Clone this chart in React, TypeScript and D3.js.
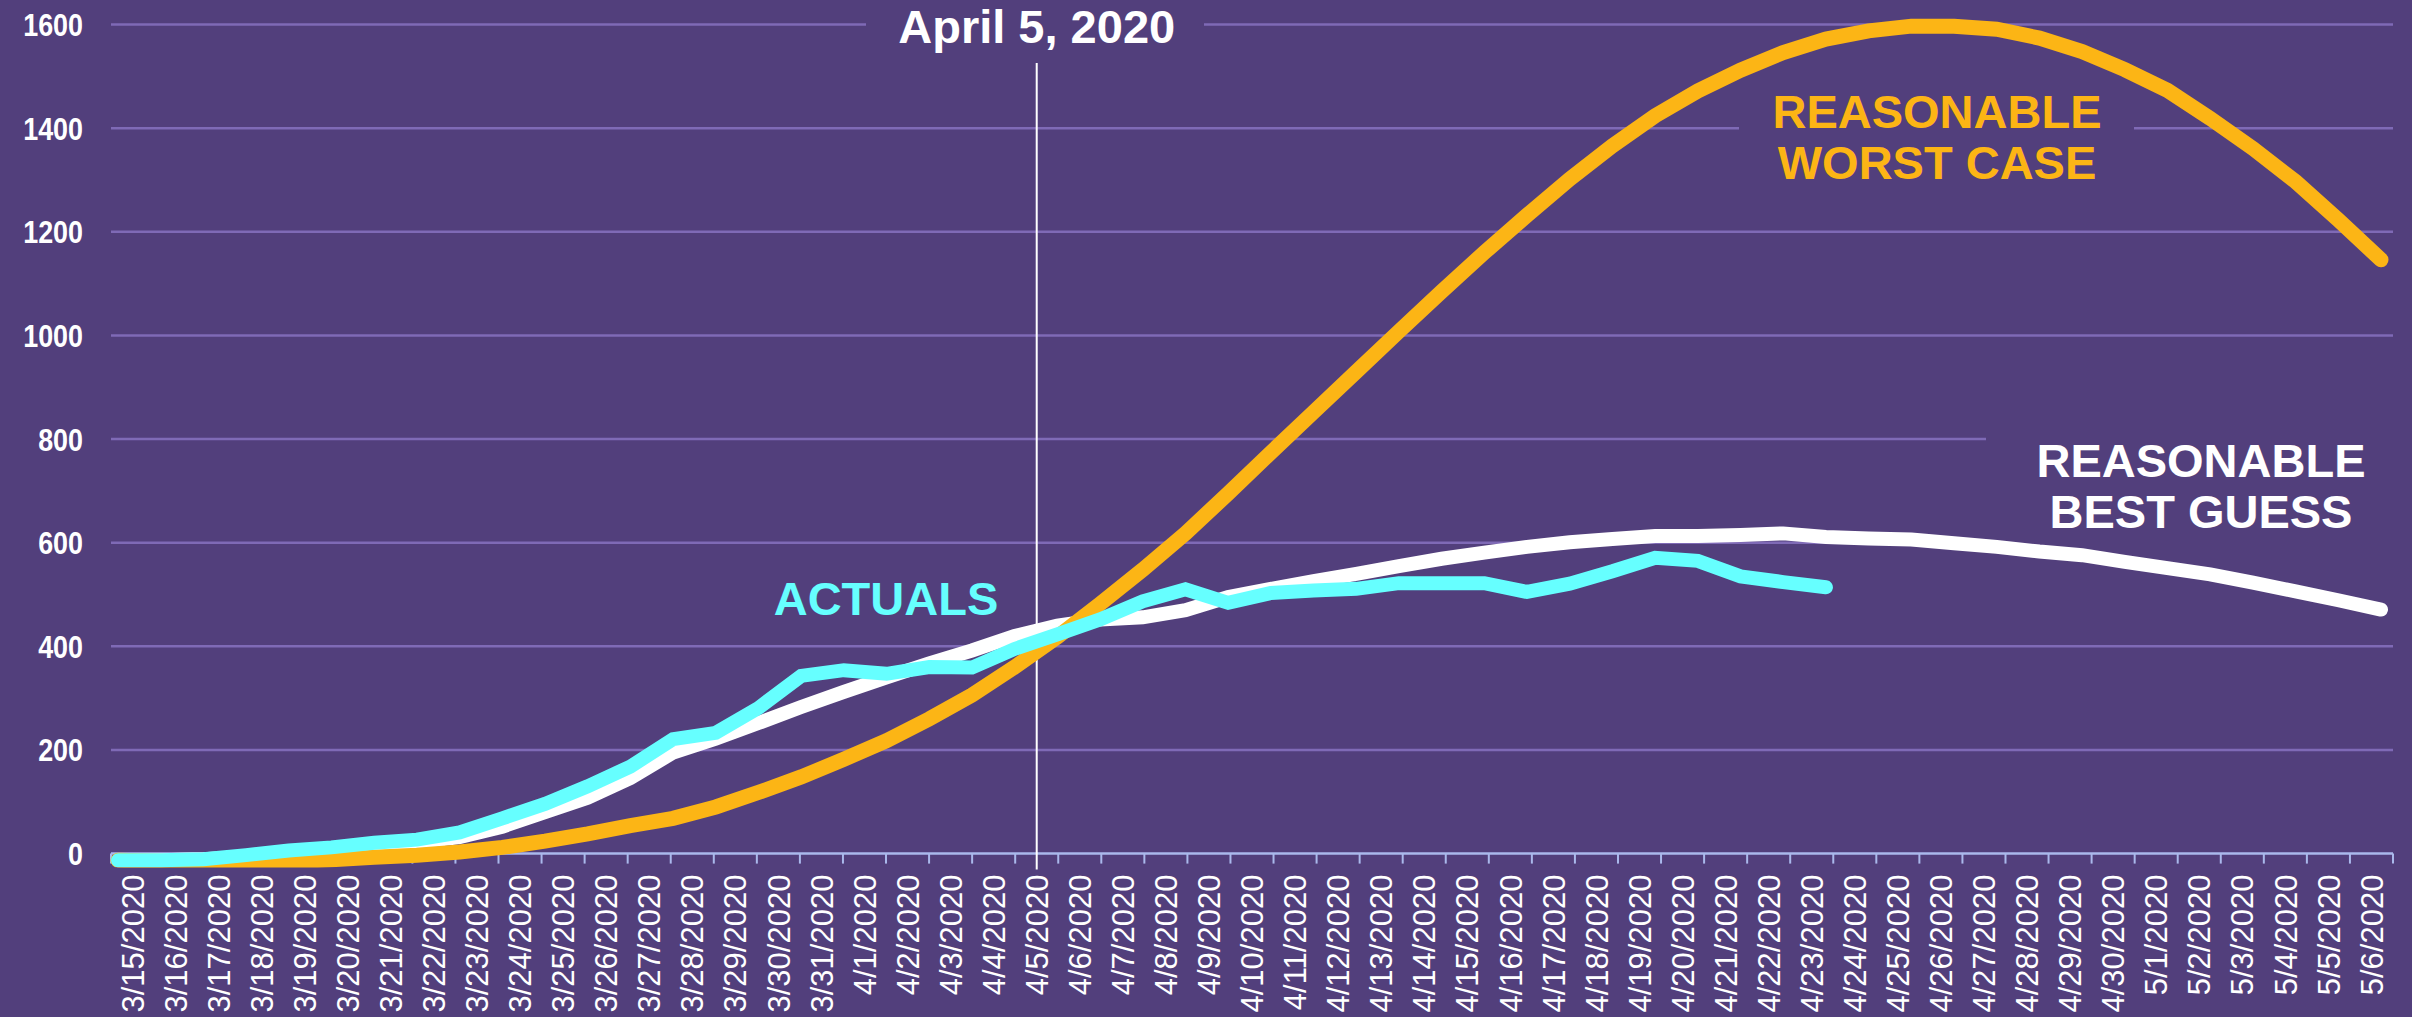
import React from "react";
import * as d3 from "d3";

// Axis categories (one per day)
const categories = [
  "3/15/2020", "3/16/2020", "3/17/2020", "3/18/2020", "3/19/2020", "3/20/2020",
  "3/21/2020", "3/22/2020", "3/23/2020", "3/24/2020", "3/25/2020", "3/26/2020",
  "3/27/2020", "3/28/2020", "3/29/2020", "3/30/2020", "3/31/2020", "4/1/2020",
  "4/2/2020", "4/3/2020", "4/4/2020", "4/5/2020", "4/6/2020", "4/7/2020",
  "4/8/2020", "4/9/2020", "4/10/2020", "4/11/2020", "4/12/2020", "4/13/2020",
  "4/14/2020", "4/15/2020", "4/16/2020", "4/17/2020", "4/18/2020", "4/19/2020",
  "4/20/2020", "4/21/2020", "4/22/2020", "4/23/2020", "4/24/2020", "4/25/2020",
  "4/26/2020", "4/27/2020", "4/28/2020", "4/29/2020", "4/30/2020", "5/1/2020",
  "5/2/2020", "5/3/2020", "5/4/2020", "5/5/2020", "5/6/2020",
];

// Series (one value per plotted point)
const worstCase = [
  -13, -15, -17, -17, -16, -12, -7, -3, 3, 12, 24, 38, 54, 68, 90, 118, 148, 182,
  218, 260, 306, 360, 418, 482, 548, 618, 695, 774, 852, 930, 1008, 1085, 1160,
  1232, 1302, 1366, 1424, 1472, 1512, 1546, 1572, 1588, 1597, 1597, 1591, 1574,
  1548, 1513, 1473, 1419, 1361, 1297, 1223, 1146,
];
const bestGuess = [
  -13, -13, -11, -6, 2, 8, 16, 22, 32, 52, 80, 108, 146, 195, 222, 252, 283, 312,
  340, 367, 392, 420, 440, 452, 456, 470, 495, 511, 526, 540, 555, 569, 581, 592,
  601, 607, 613, 613, 615, 618, 611, 608, 606, 599, 592, 583, 576, 563, 551, 539,
  523, 506, 489, 471,
];
const actuals = [
  -13, -13, -11, -3, 6, 12, 21, 27, 41, 68, 96, 130, 168, 221, 233, 281, 343, 354,
  347, 360, 359, 395, 423, 452, 487, 510, 484, 503, 508, 511, 522, 522, 522, 505,
  521, 545, 571, 565, 535, 524, 514,
];
const yTicks = [0, 200, 400, 600, 800, 1000, 1200, 1400, 1600];
const markerDate = "4/5/2020";

const W = 2412;
const H = 1017;
const BG = "#523f7c";
const GRID = "#7f6ab6";
const AXIS = "#aab9ec";
const ORANGE = "#fcb515";
const CYAN = "#66ffff";
const FONT = "'Liberation Sans', Arial, sans-serif";

export default function App() {
  const x = d3.scaleBand<string>().domain(categories).range([111, 2393]);
  const xLine = d3.scalePoint<number>().domain(d3.range(worstCase.length)).range([118, 2381]);
  const y = d3.scaleLinear().domain([0, 1600]).range([853.6, 24.6]);

  const line = d3
    .line<number>()
    .x((_, i) => xLine(i)!)
    .y((d) => y(d));

  const [left, right] = x.range();
  const ticks = categories.map((_, i) => left + i * x.step()).concat([right]);
  const markerX = x(markerDate)! + x.bandwidth() / 2;

  return (
    <div style={{ position: "absolute", left: 0, top: 0 }}>
      <svg width={W} height={H} style={{ display: "block", fontFamily: FONT }}>
        <defs>
          <clipPath id="plot">
            <rect x={0} y={0} width={W} height={y(0) + 14} />
          </clipPath>
        </defs>
        <rect width={W} height={H} fill={BG} />

        {/* gridlines */}
        {yTicks.filter((t) => t > 0).map((t) => (
          <line key={t} x1={left} x2={right} y1={y(t)} y2={y(t)} stroke={GRID} strokeWidth={2.5} />
        ))}

        {/* y labels, condensed */}
        {yTicks.map((t) => (
          <text
            key={t}
            transform={`translate(83,${y(t)}) scale(0.84,1)`}
            dy="0.36em"
            textAnchor="end"
            fill="#fff"
            fontWeight="bold"
            fontSize={32}
          >
            {t}
          </text>
        ))}

        {/* x axis */}
        <line x1={left} x2={right} y1={y(0)} y2={y(0)} stroke={AXIS} strokeWidth={2.5} />
        {ticks.map((tx, i) => (
          <line key={i} x1={tx} x2={tx} y1={y(0)} y2={y(0) + 10} stroke={AXIS} strokeWidth={2} />
        ))}
        {categories.map((c) => {
          const cx = x(c)! + x.bandwidth() / 2;
          return (
            <text
              key={c}
              transform={`translate(${cx},${y(0) + 21}) rotate(-90)`}
              dy="0.36em"
              textAnchor="end"
              fill="#fff"
              fontSize={31}
            >
              {c}
            </text>
          );
        })}

        {/* label backgrounds hiding gridlines */}
        <rect x={866} y={0} width={338} height={55} fill={BG} />
        <rect x={1739} y={86} width={395} height={104} fill={BG} />
        <rect x={1986} y={420} width={W - 1986} height={140} fill={BG} />

        {/* marker line */}
        <line x1={markerX} x2={markerX} y1={63} y2={y(0) + 16} stroke="#fff" strokeWidth={2} />
        <text x={markerX} y={43} textAnchor="middle" fill="#fff" fontWeight="bold" fontSize={47}>
          April 5, 2020
        </text>

        {/* series */}
        <g clipPath="url(#plot)" fill="none" strokeWidth={14} strokeLinecap="round">
          <path d={line(bestGuess)!} stroke="#fff" />
          <path d={line(worstCase)!} stroke={ORANGE} strokeWidth={15} />
          <path d={line(actuals)!} stroke={CYAN} />
        </g>

        {/* series labels */}
        <text x={886} y={615} textAnchor="middle" fill={CYAN} fontWeight="bold" fontSize={47}>
          ACTUALS
        </text>
        <text textAnchor="middle" fill={ORANGE} fontWeight="bold" fontSize={47}>
          <tspan x={1937} y={127.5}>REASONABLE</tspan>
          <tspan x={1937} y={179}>WORST CASE</tspan>
        </text>
        <text textAnchor="middle" fill="#fff" fontWeight="bold" fontSize={47}>
          <tspan x={2201} y={477}>REASONABLE</tspan>
          <tspan x={2201} y={528}>BEST GUESS</tspan>
        </text>
      </svg>
    </div>
  );
}
